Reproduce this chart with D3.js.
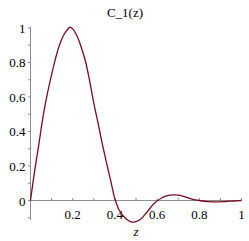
<!DOCTYPE html>
<html><head><meta charset="utf-8">
<script src="https://cdn.jsdelivr.net/npm/d3@7"></script>
<style>body{margin:0;background:#fff}svg{display:block}
text{font-family:"Liberation Serif","Times New Roman","DejaVu Serif",serif;}</style>
</head><body>
<script>
const zValues = [0,0.02,0.04,0.06,0.08,0.10,0.12,0.14,0.16,0.18,0.187,0.20,0.22,0.24,0.26,0.28,0.30,0.32,0.34,0.36,0.38,0.40,0.42,0.44,0.46,0.48,0.50,0.52,0.54,0.56,0.58,0.60,0.62,0.64,0.66,0.68,0.70,0.72,0.74,0.76,0.78,0.80,0.84,0.88,0.92,0.96,1.00];
const cValues = [0,0.175,0.33,0.49,0.62,0.73,0.83,0.91,0.965,0.997,1.005,0.995,0.955,0.89,0.81,0.695,0.565,0.45,0.33,0.22,0.115,0.01,-0.055,-0.09,-0.113,-0.125,-0.122,-0.11,-0.085,-0.055,-0.025,-0.003,0.013,0.025,0.031,0.033,0.031,0.026,0.018,0.010,0.004,0.0,-0.006,-0.008,-0.006,-0.003,0.0];
const xTickLabels = [0.2,0.4,0.6,0.8,1];
const yTickLabels = [0,0.2,0.4,0.6,0.8,1];
const minorTicks = d3.range(1,10).map(i=>i/10);
const yMinorTicks = d3.range(-1,10).map(i=>i/10);
const title = "C_1(z)";
const xLabel = "z";

const W=249,H=241;
const svg=d3.select("body").append("svg").attr("width",W).attr("height",H);
const x=d3.scaleLinear().domain([0,1]).range([30.5,241.5]);
const y=d3.scaleLinear().domain([-0.113,1.008]).range([220,26.6]);
const axisCol="#8c8c8c";

svg.append("line").attr("x1",x(0)).attr("x2",x(1)).attr("y1",y(0)).attr("y2",y(0)).attr("stroke",axisCol).attr("stroke-width",1);
svg.append("line").attr("x1",x(0)).attr("x2",x(0)).attr("y1",y(-0.113)).attr("y2",y(1.008)).attr("stroke",axisCol).attr("stroke-width",1);

svg.append("g").selectAll("line").data(minorTicks.concat([1])).join("line")
  .attr("x1",d=>x(d)).attr("x2",d=>x(d)).attr("y1",y(0)).attr("y2",y(0)-2.5)
  .attr("stroke",axisCol);
svg.append("g").selectAll("line").data(yMinorTicks.concat([1])).join("line")
  .attr("x1",x(0)).attr("x2",x(0)-2.5).attr("y1",d=>y(d)).attr("y2",d=>y(d))
  .attr("stroke",axisCol);

svg.append("g").selectAll("text").data(xTickLabels).join("text")
  .attr("x",d=>x(d)).attr("y",y(0)+18).attr("text-anchor","middle")
  .attr("font-size",13).attr("fill","#000")
  .text(d=>d3.format("")(d));
svg.append("g").selectAll("text").data(yTickLabels).join("text")
  .attr("x",x(0)-5).attr("y",d=>y(d)+5).attr("text-anchor","end")
  .attr("font-size",13).attr("fill","#000")
  .text(d=>d3.format("")(d));

const pts=zValues.map((z,i)=>[z,cValues[i]]);
const line=d3.line().x(d=>x(d[0])).y(d=>y(d[1])).curve(d3.curveCatmullRom.alpha(0.5));
svg.append("path").datum(pts).attr("d",line).attr("fill","none")
  .attr("stroke","#7d0a1e").attr("stroke-width",1.3);

svg.append("text").attr("x",125).attr("y",17).attr("text-anchor","middle")
  .attr("font-size",13).text(title);
svg.append("text").attr("x",x(0.5)).attr("y",236).attr("text-anchor","middle")
  .attr("font-style","italic").attr("font-size",13).text(xLabel);
</script>
</body></html>
